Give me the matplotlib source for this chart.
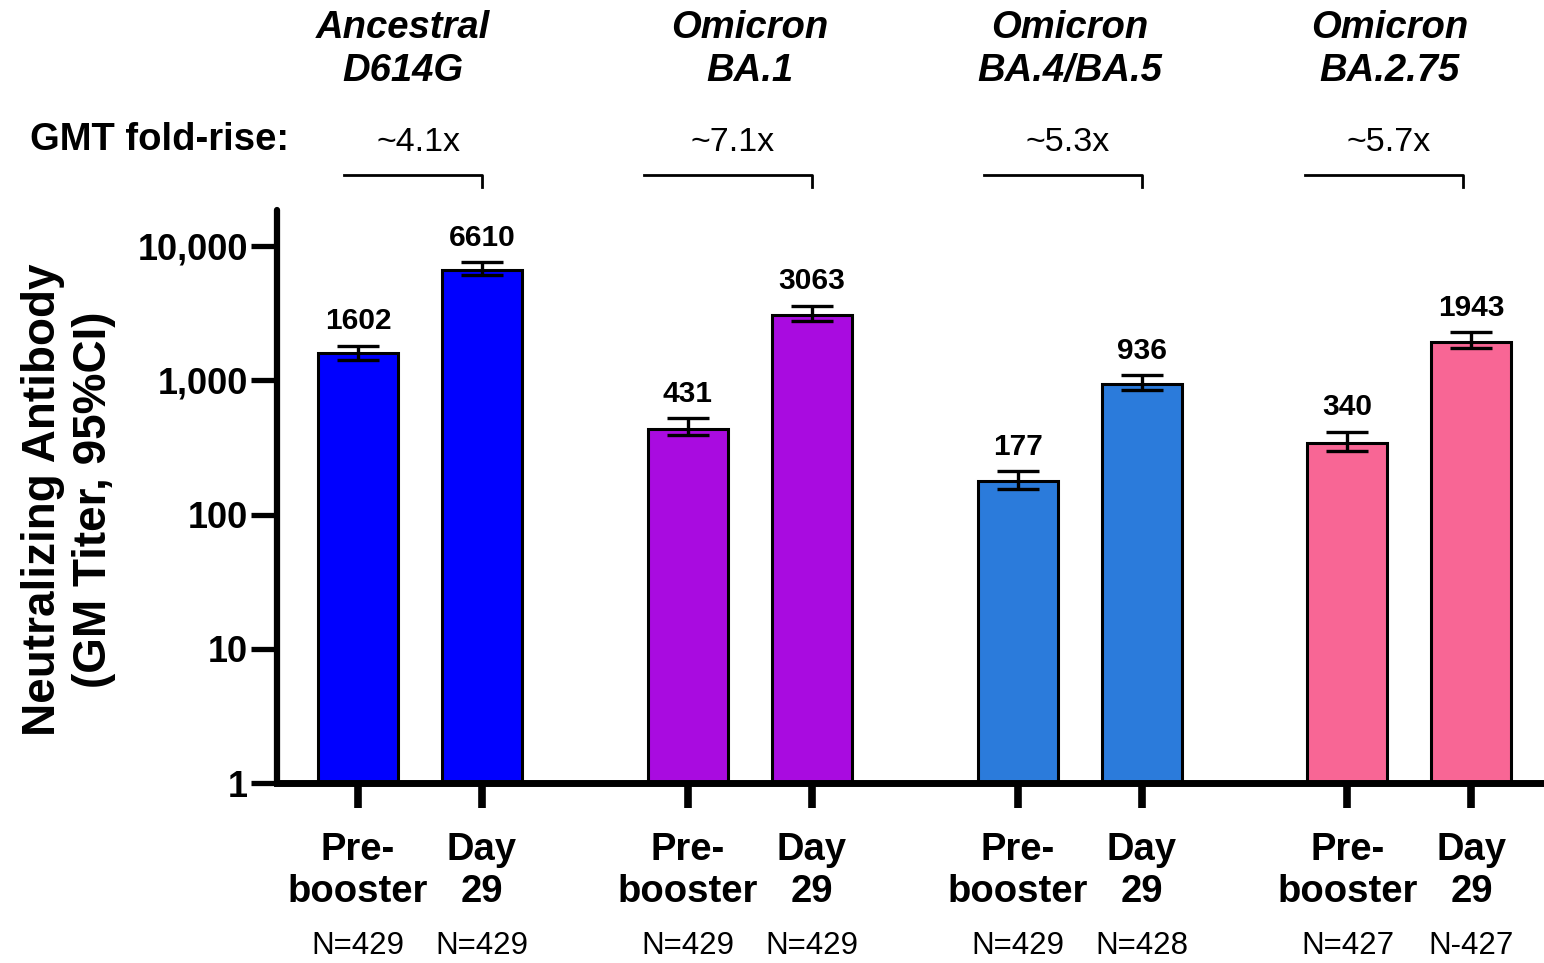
import numpy as np
import matplotlib
matplotlib.use("Agg")
from matplotlib import pyplot as plt

plt.rcParams['font.family'] = ['Liberation Sans', 'DejaVu Sans']

# variants and their geometric mean titers (pre-booster, day 29)
variants = ["Ancestral\nD614G", "Omicron\nBA.1", "Omicron\nBA.4/BA.5", "Omicron\nBA.2.75"]
fold_rise = ["~4.1x", "~7.1x", "~5.3x", "~5.7x"]
gmt_pre = [1602, 431, 177, 340]
gmt_d29 = [6610, 3063, 936, 1943]
ci_low_pre = [1420, 389, 154, 297]
ci_high_pre = [1810, 520, 210, 411]
ci_low_d29 = [6090, 2760, 843, 1725]
ci_high_d29 = [7560, 3580, 1090, 2270]
n_pre = ["N=429", "N=429", "N=429", "N=427"]
n_d29 = ["N=429", "N=429", "N=428", "N-427"]
timepoints = ["Pre-\nbooster", "Day\n29"]
colors = ["#0000FF", "#A90BE0", "#2B7BDB", "#F86695"]

# layout
group_gap = 2.66
title_dx = [-0.14, 0.0, -0.08, -0.16]
bracket_left = [-0.11, -0.35, -0.27, -0.34]
bracket_right = [0.0, 0.0, 0.0, -0.07]

fig = plt.figure(figsize=(15.44, 9.63), dpi=100)
ax = fig.add_axes([277 / 1544, 1 - 783 / 963, 1 - 277 / 1544, (783 - 210) / 963])

xs, vals, lows, highs, cols, xlabels, nlabels = [], [], [], [], [], [], []
for i in range(len(variants)):
    x0 = i * group_gap
    xs += [x0, x0 + 1]
    vals += [gmt_pre[i], gmt_d29[i]]
    lows += [ci_low_pre[i], ci_low_d29[i]]
    highs += [ci_high_pre[i], ci_high_d29[i]]
    cols += [colors[i], colors[i]]
    xlabels += timepoints
    nlabels += [n_pre[i], n_d29[i]]
xs = np.array(xs)
vals = np.array(vals, dtype=float)
lows = np.array(lows, dtype=float)
highs = np.array(highs, dtype=float)

ax.bar(xs, vals, width=0.645, color=cols, edgecolor="black", linewidth=2.2, log=True, zorder=2)
ax.errorbar(xs, vals, yerr=[vals - lows, highs - vals], fmt="none", ecolor="black",
            elinewidth=2.4, capsize=15, capthick=2.4, zorder=3)

for x, v, h in zip(xs, vals, highs):
    ax.annotate(str(int(v)), (x, h), xytext=(0, 12), textcoords="offset points",
                ha="center", va="baseline", fontsize=21.5, fontweight="bold")

ax.set_yscale("log")
ax.set_ylim(1, 10 ** ((783 - 210) / 134.25))
ax.set_xlim(-0.653, 9.565)
ax.set_yticks([1, 10, 100, 1000, 10000])
ax.set_yticklabels(["1", "10", "100", "1,000", "10,000"])
ax.yaxis.set_minor_locator(matplotlib.ticker.NullLocator())
ax.set_xticks(xs)
ax.set_xticklabels(xlabels)

for s in ["top", "right"]:
    ax.spines[s].set_visible(False)
ax.spines["left"].set_linewidth(4.5)
ax.spines["bottom"].set_linewidth(5)
ax.spines["left"].set_capstyle("round")
ax.tick_params(axis="y", length=19, width=3.8, pad=2, labelsize=26)
ax.tick_params(axis="x", length=18, width=5.5, pad=17, labelsize=27.5)
for t in ax.get_yticklabels():
    t.set_fontweight("bold")
for t in ax.get_xticklabels():
    t.set_fontweight("bold")
    t.set_linespacing(1.22)

# N per bar below the axis
for x, n in zip(xs, nlabels):
    ax.text(x, -0.2845, n, transform=ax.get_xaxis_transform(), ha="center", va="center",
            fontsize=22.5)

# variant names, fold rise and brackets above the axis
trans = ax.get_xaxis_transform()
for i, name in enumerate(variants):
    x0 = i * group_gap
    ax.text(x0 + 0.5 + title_dx[i], 1.28, name, transform=trans, ha="center", va="center",
            fontsize=27.5, fontweight="bold", style="italic", linespacing=1.22, clip_on=False)
    bl, br = x0 + bracket_left[i], x0 + 1 + bracket_right[i]
    ax.text((bl + br) / 2 + 0.04, 1.117, fold_rise[i], transform=trans, ha="center", va="center",
            fontsize=24.5, clip_on=False)
    ax.plot([bl, br, br], [1.061, 1.061, 1.040], transform=trans, color="black",
            linewidth=2, clip_on=False)

fig.text(30 / 1544, 1 - 140 / 963, "GMT fold-rise:", ha="left", va="center",
         fontsize=27.5, fontweight="bold")
fig.text(68.5 / 1544, 1 - 500 / 963, "Neutralizing Antibody\n(GM Titer, 95%CI)",
         rotation=90, ha="center", va="center", multialignment="center",
         fontsize=33, fontweight="bold", linespacing=1.2)

fig.savefig("out.png", dpi=100)
